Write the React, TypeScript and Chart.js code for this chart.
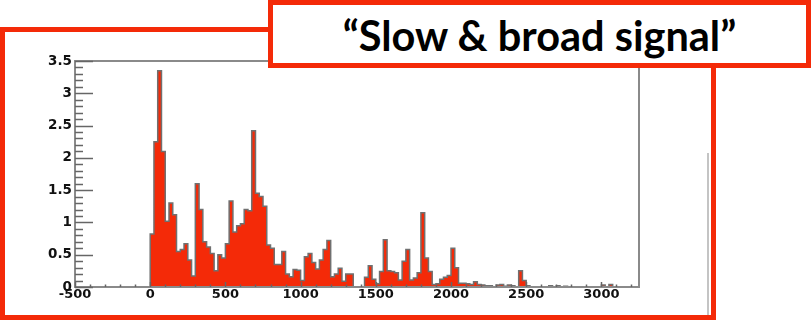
import React, { useEffect, useRef } from "react";
import { Chart, registerables } from "chart.js";

Chart.register(...registerables);

// ---- data ----
const binStart = 0;
const binWidth = 25;
const binCounts = [
  0.82, 2.25, 3.35, 2.1, 1.02, 1.3, 1.12, 0.55, 0.58, 0.67,
  0.42, 0.17, 1.6, 1.2, 0.7, 0.62, 0.52, 0.25, 0.5, 0.45,
  0.67, 1.33, 0.85, 0.95, 0.98, 1.2, 1.18, 2.42, 1.45, 1.4,
  1.25, 0.65, 0.6, 0.35, 0.35, 0.55, 0.2, 0.16, 0.27, 0.26,
  0.1, 0.47, 0.52, 0.38, 0.28, 0.42, 0.58, 0.72, 0.16, 0.2,
  0.29, 0.09, 0.2, 0.2, 0, 0, 0, 0.15, 0.33, 0.12,
  0.05, 0.24, 0.73, 0.25, 0.24, 0.22, 0.11, 0.4, 0.58, 0.11,
  0.14, 0.22, 1.15, 0.45, 0.24, 0.04, 0.05, 0.12, 0.15, 0.18,
  0.6, 0.3, 0.06, 0.06, 0.05, 0.04, 0.08, 0.04, 0.03, 0.02,
  0.02, 0, 0.03, 0.04, 0.01, 0.03, 0.02, 0, 0.25, 0.1,
  0.02, 0, 0, 0, 0, 0, 0.02, 0, 0.02, 0,
  0.01, 0, 0, 0, 0, 0, 0, 0, 0, 0,
  0.03, 0, 0.04, 0, 0, 0, 0, 0, 0, 0,
];
const xTickValues = [-500, 0, 500, 1000, 1500, 2000, 2500, 3000];
const yTickValues = [0, 0.5, 1, 1.5, 2, 2.5, 3, 3.5];
const xMin = -500;
const xMax = 3250;
const yMin = 0;
const yMax = 3.5;
const xMinorStep = 100;
const yMinorStep = 0.1;
const titleText = "\u201CSlow & broad signal\u201D";

// ---- styles ----
const RED = "#f42a08";
const W = 811;
const H = 321;

const rootAxes = {
  id: "rootAxes",
  afterDraw(chart: any) {
    const { ctx, chartArea: a, scales } = chart;
    const x = scales.x;
    const y = scales.y;
    ctx.save();
    // frame
    ctx.strokeStyle = "#8a8a8a";
    ctx.lineWidth = 2;
    ctx.strokeRect(a.left, a.top, a.right - a.left, a.bottom - a.top);
    // y ticks (inward)
    ctx.strokeStyle = "#666";
    ctx.lineWidth = 1.5;
    const ny = Math.round((yMax - yMin) / yMinorStep);
    for (let i = 0; i <= ny; i++) {
      const v = yMin + i * yMinorStep;
      const py = Math.round(y.getPixelForValue(v)) + 0.5;
      const major = i % 5 === 0;
      ctx.beginPath();
      ctx.moveTo(a.left, py);
      ctx.lineTo(a.left + (major ? 18 : 8), py);
      ctx.stroke();
    }
    // x ticks (upward)
    const nx = Math.round((xMax - xMin) / xMinorStep);
    for (let i = 0; i <= nx; i++) {
      const v = xMin + i * xMinorStep;
      if (v > xMax) break;
      const px = Math.round(x.getPixelForValue(v)) + 0.5;
      const major = v % 500 === 0;
      ctx.beginPath();
      ctx.moveTo(px, a.bottom);
      ctx.lineTo(px, a.bottom - (major ? 5 : 2.5));
      ctx.stroke();
    }
    ctx.restore();
  },
};

export default function App() {
  const ref = useRef<HTMLCanvasElement | null>(null);

  useEffect(() => {
    if (!ref.current) return;
    // points at bin right edges; Chart.js stepped "after" holds each point's
    // value over the interval that ends at it (rise at the bin's left edge)
    const pts = [
      { x: binStart, y: 0 },
      ...binCounts.map((v, i) => ({ x: binStart + (i + 1) * binWidth, y: v })),
    ];
    const tickFont = { family: "'DejaVu Sans'", weight: "bold" as const };
    const chart = new Chart(ref.current, {
      type: "line",
      data: {
        datasets: [
          {
            data: pts,
            stepped: "after",
            fill: "origin",
            backgroundColor: RED,
            borderColor: "#707070",
            borderWidth: 1.5,
            pointRadius: 0,
          } as any,
        ],
      },
      options: {
        animation: false,
        responsive: false,
        maintainAspectRatio: false,
        layout: { padding: { left: 0, top: 61, right: W - 639, bottom: 0 } },
        plugins: {
          legend: { display: false },
          tooltip: { enabled: false },
        },
        scales: {
          x: {
            type: "linear",
            min: xMin,
            max: xMax,
            afterBuildTicks: (s: any) => {
              s.ticks = xTickValues.map((v) => ({ value: v }));
            },
            afterFit: (s: any) => {
              s.height = H - 287;
            },
            grid: { display: false, drawTicks: false },
            border: { display: false },
            ticks: {
              padding: 0,
              color: "#111",
              font: { ...tickFont, size: 13 },
              maxRotation: 0,
              autoSkip: false,
              callback: (v: any) => String(v),
            },
          },
          y: {
            type: "linear",
            min: yMin,
            max: yMax,
            afterBuildTicks: (s: any) => {
              s.ticks = yTickValues.map((v) => ({ value: v }));
            },
            afterFit: (s: any) => {
              s.width = 75;
            },
            grid: { display: false, drawTicks: false },
            border: { display: false },
            ticks: {
              padding: 3,
              color: "#111",
              font: { ...tickFont, size: 13.5 },
              autoSkip: false,
              callback: (v: any) => String(v),
            },
          },
        },
      },
      plugins: [rootAxes],
    });
    return () => chart.destroy();
  }, []);

  return (
    <div
      style={{
        position: "absolute",
        left: 0,
        top: 0,
        width: W,
        height: H,
        background: "#fff",
        overflow: "hidden",
      }}
    >
      <div
        style={{
          position: "absolute",
          left: 0,
          top: 27,
          width: 716,
          height: 293,
          border: `5px solid ${RED}`,
          boxSizing: "border-box",
        }}
      />
      <div
        style={{
          position: "absolute",
          left: 707,
          top: 153,
          width: 2,
          height: 162,
          background: "#c4c4c4",
        }}
      />
      <canvas
        ref={ref}
        width={W}
        height={H}
        style={{ position: "absolute", left: 0, top: 0, width: W, height: H }}
      />
      <div
        style={{
          position: "absolute",
          left: 268,
          top: 0,
          width: W - 268,
          height: 68,
          border: `5px solid ${RED}`,
          boxSizing: "border-box",
          background: "#fff",
          display: "flex",
          alignItems: "center",
          justifyContent: "center",
          fontFamily: "Lato, 'Open Sans', sans-serif",
          fontWeight: 700,
          fontSize: 41.5,
          color: "#000",
          whiteSpace: "nowrap",
          paddingTop: 2,
        }}
      >
        {titleText}
      </div>
    </div>
  );
}
